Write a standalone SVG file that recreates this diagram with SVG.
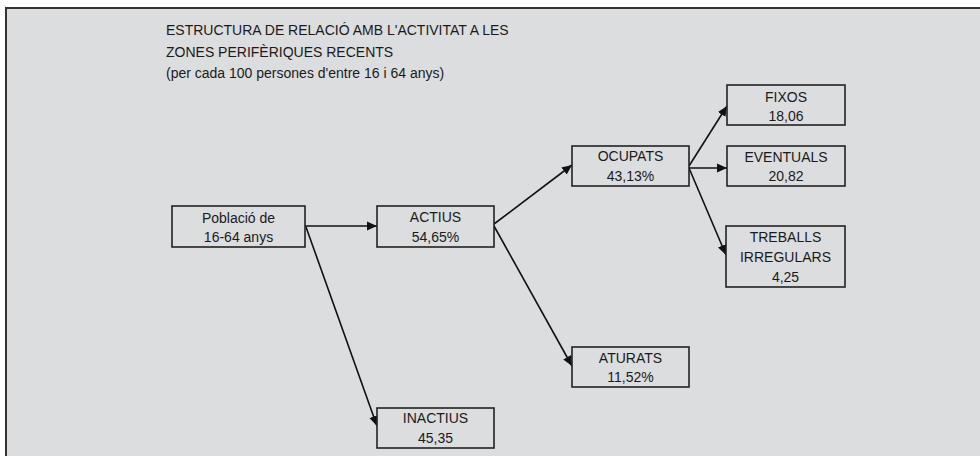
<svg xmlns="http://www.w3.org/2000/svg" width="980" height="456" viewBox="0 0 980 456">
<defs>
<style>
.box{fill:#dcdddf;stroke:#222;stroke-width:1.6}
.t{font-family:"Liberation Sans",Arial,sans-serif;font-size:14px;fill:#1a1a1a}
.c{text-anchor:middle}
.ln{stroke:#111;stroke-width:1.6;fill:none}
</style>
<marker id="ah" viewBox="0 0 10 10" refX="10" refY="5" markerWidth="10" markerHeight="10" markerUnits="userSpaceOnUse" orient="auto">
<path d="M0,0.5 L10,5 L0,9.5 Z" fill="#111"/>
</marker>
</defs>
<rect x="0" y="0" width="980" height="456" fill="#fff"/>
<rect x="6" y="8" width="1000" height="500" fill="#dcdddf" stroke="#333" stroke-width="2"/>
<g id="title">
<text class="t" x="166" y="35">ESTRUCTURA DE RELACIÓ AMB L'ACTIVITAT A LES</text>
<text class="t" x="166" y="57">ZONES PERIFÈRIQUES RECENTS</text>
<text class="t" x="166" y="78">(per cada 100 persones d'entre 16 i 64 anys)</text>
</g>
<g id="connectors">
<line class="ln" x1="305" y1="226" x2="377" y2="226" marker-end="url(#ah)"/>
<line class="ln" x1="306" y1="227" x2="377" y2="426" marker-end="url(#ah)"/>
<line class="ln" x1="494" y1="224" x2="572" y2="165" marker-end="url(#ah)"/>
<line class="ln" x1="494" y1="226" x2="572" y2="366" marker-end="url(#ah)"/>
<line class="ln" x1="689" y1="166" x2="727" y2="106" marker-end="url(#ah)"/>
<line class="ln" x1="689" y1="168" x2="727" y2="168" marker-end="url(#ah)"/>
<line class="ln" x1="689" y1="168" x2="726" y2="255" marker-end="url(#ah)"/>
</g>
<g id="poblacio">
<rect class="box" x="172" y="206" width="133" height="41"/>
<text class="t c" x="238.5" y="223">Població de</text>
<text class="t c" x="238.5" y="242">16-64 anys</text>
</g>
<g id="actius">
<rect class="box" x="377" y="206" width="117" height="41"/>
<text class="t c" x="435.5" y="222">ACTIUS</text>
<text class="t c" x="435.5" y="242">54,65%</text>
</g>
<g id="ocupats">
<rect class="box" x="572" y="146" width="117" height="40"/>
<text class="t c" x="630.5" y="161">OCUPATS</text>
<text class="t c" x="630.5" y="181">43,13%</text>
</g>
<g id="aturats">
<rect class="box" x="572" y="347" width="117" height="40"/>
<text class="t c" x="630.5" y="363">ATURATS</text>
<text class="t c" x="630.5" y="382">11,52%</text>
</g>
<g id="inactius">
<rect class="box" x="377" y="408" width="117" height="40"/>
<text class="t c" x="435.5" y="423">INACTIUS</text>
<text class="t c" x="435.5" y="443">45,35</text>
</g>
<g id="fixos">
<rect class="box" x="727" y="85" width="118" height="40"/>
<text class="t c" x="786" y="102">FIXOS</text>
<text class="t c" x="786" y="121">18,06</text>
</g>
<g id="eventuals">
<rect class="box" x="727" y="146" width="118" height="40"/>
<text class="t c" x="786" y="162">EVENTUALS</text>
<text class="t c" x="786" y="181">20,82</text>
</g>
<g id="treballs">
<rect class="box" x="726" y="226" width="119" height="61"/>
<text class="t c" x="785.5" y="242">TREBALLS</text>
<text class="t c" x="785.5" y="262">IRREGULARS</text>
<text class="t c" x="785.5" y="282">4,25</text>
</g>
</svg>
